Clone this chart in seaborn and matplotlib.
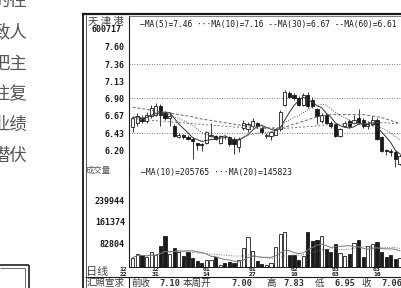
import numpy as np
import pandas as pd
import matplotlib
matplotlib.use("Agg")
import matplotlib.pyplot as plt
import matplotlib.transforms as mtrans
from matplotlib.lines import Line2D
import seaborn as sns

sns.set_theme(style="white")
plt.rcParams['font.family'] = ['DejaVu Sans', 'Noto Sans CJK SC']

# daily candles, 天津港 600717
opens = [6.51, 6.57, 6.64, 6.59, 6.66, 6.68, 6.79, 6.70, 6.63, 6.52,
         6.38, 6.40, 6.38, 6.35, 6.29, 6.28, 6.30, 6.39, 6.39, 6.30,
         6.38, 6.37, 6.35, 6.24, 6.50, 6.48, 6.52, 6.56, 6.50, 6.39,
         6.39, 6.41, 6.48, 6.81, 6.97, 6.95, 6.90, 6.81, 6.95, 6.88,
         6.75, 6.59, 6.68, 6.57, 6.55, 6.39, 6.53, 6.59, 6.57, 6.64,
         6.61, 6.53, 6.55, 6.61, 6.37, 6.20, 6.19, 6.17, 6.01]
highs = [6.66, 6.70, 6.68, 6.72, 6.81, 6.84, 6.82, 6.73, 6.71, 6.55,
         6.43, 6.42, 6.40, 6.37, 6.30, 6.29, 6.46, 6.57, 6.41, 6.41,
         6.40, 6.39, 6.37, 6.37, 6.60, 6.58, 6.64, 6.58, 6.52, 6.43,
         6.46, 6.50, 6.74, 7.01, 7.00, 6.97, 6.93, 6.97, 6.99, 6.92,
         6.77, 6.70, 6.70, 6.59, 6.57, 6.50, 6.59, 6.62, 6.68, 6.75,
         6.64, 6.59, 6.66, 6.64, 6.39, 6.22, 6.21, 6.19, 6.14]
lows = [6.44, 6.53, 6.56, 6.56, 6.64, 6.66, 6.52, 6.60, 6.52, 6.37,
        6.36, 6.35, 6.33, 6.08, 6.20, 6.19, 6.28, 6.37, 6.33, 6.28,
        6.35, 6.26, 6.15, 6.17, 6.47, 6.45, 6.50, 6.50, 6.42, 6.36,
        6.33, 6.40, 6.46, 6.79, 6.90, 6.88, 6.79, 6.79, 6.77, 6.77,
        6.55, 6.57, 6.55, 6.50, 6.37, 6.37, 6.51, 6.50, 6.55, 6.55,
        6.50, 6.48, 6.53, 6.33, 6.17, 6.13, 6.12, 5.97, 5.99]
closes = [6.64, 6.66, 6.59, 6.68, 6.77, 6.79, 6.68, 6.64, 6.66, 6.39,
          6.40, 6.37, 6.35, 6.32, 6.27, 6.27, 6.44, 6.41, 6.35, 6.39,
          6.37, 6.28, 6.28, 6.35, 6.57, 6.55, 6.59, 6.53, 6.44, 6.41,
          6.44, 6.48, 6.72, 6.99, 6.92, 6.91, 6.81, 6.95, 6.79, 6.79,
          6.66, 6.68, 6.57, 6.53, 6.39, 6.48, 6.57, 6.52, 6.61, 6.57,
          6.52, 6.55, 6.61, 6.35, 6.19, 6.18, 6.17, 6.08, 6.12]
volumes = [32000, 47000, 42000, 33000, 51000, 42000, 75000, 111000, 46000, 66000,
           54000, 38000, 54000, 30000, 20000, 14000, 22000, 24000, 33000, 6000,
           12000, 18000, 12000, 24000, 66000, 107000, 57000, 20000, 9000, 6000,
           12000, 72000, 119000, 125000, 42000, 42000, 24000, 38000, 125000, 91000,
           97000, 109000, 64000, 54000, 81000, 48000, 38000, 46000, 85000, 97000,
           36000, 76000, 81000, 88000, 54000, 36000, 42000, 26000, 30000]
ma30 = [6.78, 6.77, 6.76, 6.75, 6.74, 6.73, 6.72, 6.71, 6.70, 6.69,
        6.68, 6.67, 6.66, 6.65, 6.63, 6.62, 6.61, 6.60, 6.59, 6.58,
        6.57, 6.56, 6.55, 6.54, 6.53, 6.53, 6.52, 6.52, 6.51, 6.50,
        6.50, 6.50, 6.50, 6.51, 6.53, 6.55, 6.57, 6.59, 6.61, 6.63,
        6.65, 6.66, 6.67, 6.68, 6.68, 6.68, 6.68, 6.68, 6.68, 6.68,
        6.68, 6.67, 6.66, 6.65, 6.64, 6.62, 6.60, 6.58, 6.56]
ma60 = [6.62, 6.62, 6.61, 6.61, 6.60, 6.60, 6.59, 6.59, 6.58, 6.58,
        6.57, 6.57, 6.56, 6.56, 6.55, 6.55, 6.54, 6.54, 6.53, 6.53,
        6.52, 6.52, 6.51, 6.51, 6.50, 6.50, 6.50, 6.49, 6.49, 6.49,
        6.49, 6.49, 6.49, 6.49, 6.50, 6.50, 6.51, 6.51, 6.52, 6.52,
        6.53, 6.53, 6.54, 6.54, 6.55, 6.55, 6.55, 6.56, 6.56, 6.56,
        6.56, 6.57, 6.57, 6.57, 6.57, 6.57, 6.56, 6.56, 6.56]

price_ticks = [7.60, 7.36, 7.13, 6.90, 6.67, 6.43, 6.20]
price_grid = [7.36, 6.90, 6.43]
vol_ticks = [82804, 161374, 239944]
date_months = ["12", "12", "01", "01", "02", "03", "03"]
date_days = ["22", "31", "14", "27", "10", "03", "16"]
date_pos = [-2, 5, 16, 26, 35, 44, 53]
page_lines = ["的往", "致人", "把主", "往复", "业绩", "潜伏"]
summary_names = ["前收", "本周开", "高", "低", "收"]
summary_values = ["7.10", "7.00", "7.83", "6.95", "7.06"]

W, H = 402, 288
def fx(px): return px / W
def fy(py): return 1 - py / H

MONO = 'DejaVu Sans Mono'
CJK = ['Noto Sans CJK SC', 'DejaVu Sans']
INK = '#1a1a1a'

fig = plt.figure(figsize=(4.02, 2.88), dpi=100)
fig.patch.set_facecolor('white')

ax_p = fig.add_axes([fx(129), fy(168.3), fx(402) - fx(129), fy(16) - fy(168.3)])
ax_v = fig.add_axes([fx(129), fy(266.5), fx(402) - fx(129), fy(168.3) - fy(266.5)])

n = len(closes)
idx = np.arange(n)
o = np.array(opens); c = np.array(closes)
up = c >= o
face = np.where(up, 'white', INK)
xlim = (-0.80, 58.43)

# candles
ax_p.vlines(idx, lows, highs, color=INK, lw=0.6, zorder=2)
ax_p.bar(idx, np.maximum(np.abs(c - o), 0.006), bottom=np.minimum(o, c), width=0.7,
         color=face, edgecolor=INK, linewidth=0.6, zorder=3)

df = pd.DataFrame({'i': idx, 'close': c, 'vol': volumes, 'ma30': ma30, 'ma60': ma60})
df['ma5'] = df['close'].rolling(5, min_periods=1).mean()
df['ma10'] = df['close'].rolling(10, min_periods=1).mean()
df['vma10'] = df['vol'].rolling(10, min_periods=1).mean()
df['vma20'] = df['vol'].rolling(20, min_periods=1).mean()

sns.lineplot(data=df, x='i', y='ma5', ax=ax_p, color='#333', lw=0.7, legend=False, zorder=4)
sns.lineplot(data=df, x='i', y='ma10', ax=ax_p, color='#555', lw=0.7, linestyle=(0, (1, 1.5)), legend=False, zorder=4)
sns.lineplot(data=df, x='i', y='ma30', ax=ax_p, color='#666', lw=0.7, linestyle=(0, (3, 2)), legend=False, zorder=4)
sns.lineplot(data=df, x='i', y='ma60', ax=ax_p, color='#777', lw=0.7, linestyle=(0, (2, 2)), legend=False, zorder=4)

for g in price_grid:
    ax_p.axhline(g, color='#555', lw=0.6, ls=(0, (1, 2)), zorder=1)

ax_p.set_xlim(*xlim)
ax_p.set_ylim(5.952, 8.016)
ax_p.set_yticks(price_ticks)
ax_p.set_yticklabels([f"{t:.2f}" for t in price_ticks], family=MONO, fontweight='bold', fontsize=6, color=INK)
ax_p.set_xticks([])

# volume
ax_v.bar(idx, volumes, width=0.7, color=face, edgecolor=INK, linewidth=0.6, zorder=3)
sns.lineplot(data=df, x='i', y='vma10', ax=ax_v, color='#777', lw=0.7, legend=False, zorder=4)
sns.lineplot(data=df, x='i', y='vma20', ax=ax_v, color='#777', lw=0.7, linestyle=(0, (1, 1.5)), legend=False, zorder=4)
ax_v.set_xlim(*xlim)
ax_v.set_ylim(0, 355600)
ax_v.set_yticks(vol_ticks)
ax_v.set_yticklabels([str(t) for t in vol_ticks], family=MONO, fontweight='bold', fontsize=6, color=INK)
ax_v.set_xticks([])

for ax in (ax_p, ax_v):
    ax.set_xlabel(''); ax.set_ylabel('')
    ax.set_facecolor('white')
    ax.tick_params(axis='y', length=0, pad=3)
    ax.spines['right'].set_visible(False)
    ax.spines['left'].set_color(INK); ax.spines['left'].set_linewidth(0.8)
    ax.spines['bottom'].set_color(INK); ax.spines['bottom'].set_linewidth(0.7)
ax_p.spines['top'].set_color('#666'); ax_p.spines['top'].set_linewidth(0.6)
ax_v.spines['top'].set_visible(False)

# headers
fig.text(fx(140.5), fy(24.5), "—MA(5)=7.46 ···MA(10)=7.16 --MA(30)=6.67 --MA(60)=6.61",
         family=MONO, fontsize=5.7, color=INK, va='center', ha='left')
fig.text(fx(141.5), fy(172.5), "—MA(10)=205765 ···MA(20)=145823",
         family=MONO, fontsize=5.8, color=INK, va='center', ha='left')

# label column
fig.text(fx(105.5), fy(21.5), "天 津 港", family=CJK, fontsize=7.5, color='#444', ha='center', va='center')
fig.text(fx(122), fy(30), "600717", family=MONO, fontweight='bold', fontsize=6, color=INK, ha='right', va='center')
fig.text(fx(98), fy(170.5), "成交量", family=CJK, fontsize=6, color='#555', ha='center', va='center')
fig.text(fx(97.5), fy(272.5), "日线", family=CJK, fontsize=8, color='#444', ha='center', va='center')

# date labels, month above day
tr = mtrans.blended_transform_factory(ax_v.transData, fig.transFigure)
for p, m, d in zip(date_pos, date_months, date_days):
    ax_v.text(p, fy(269.6), m, transform=tr, family=MONO, fontweight='bold', fontsize=4.6,
              color=INK, ha='center', va='center', clip_on=False)
    ax_v.text(p, fy(274.6), d, transform=tr, family=MONO, fontweight='bold', fontsize=4.6,
              color=INK, ha='center', va='center', clip_on=False)

# bottom summary row
fig.text(fx(106), fy(283), "汇照宣求", family=CJK, fontsize=6.8, color='#333', ha='center', va='center')
name_x = [141, 197, 271, 320, 366]
value_x = [170, 242, 294, 345, 392]
for nx, nm in zip(name_x, summary_names):
    fig.text(fx(nx), fy(283), nm, family=CJK, fontsize=6.8, color='#333', ha='center', va='center')
for vx, vv in zip(value_x, summary_values):
    fig.text(fx(vx), fy(283), vv, family=MONO, fontweight='bold', fontsize=6.2, color='#333', ha='center', va='center')

# frame lines
def line(x0, y0, x1, y1, lw, color=INK):
    fig.add_artist(Line2D([fx(x0), fx(x1)], [fy(y0), fy(y1)], transform=fig.transFigure,
                          lw=lw, color=color, solid_capstyle='butt'))

line(82, 14.2, 402, 14.2, 1.6)
line(82.6, 13.4, 82.6, 288, 1.3)
line(85.6, 15, 85.6, 288, 0.7, '#555')
line(85, 277.3, 402, 277.3, 0.8)
line(128.6, 277.3, 128.6, 288, 0.8)

# neighbouring page text and box
for k, s in enumerate(page_lines):
    fig.text(fx(27.5), fy(2 + 30.8 * k), s, family=CJK, fontsize=12.5, color='#555', ha='right', va='center')
line(0, 264.5, 29, 264.5, 1.3, '#333')
line(29, 264.5, 29, 288, 1.3, '#333')
line(0, 267.5, 25.5, 267.5, 0.6, '#555')
line(25.5, 267.5, 25.5, 288, 0.6, '#555')

fig.savefig('out.png', dpi=100)
